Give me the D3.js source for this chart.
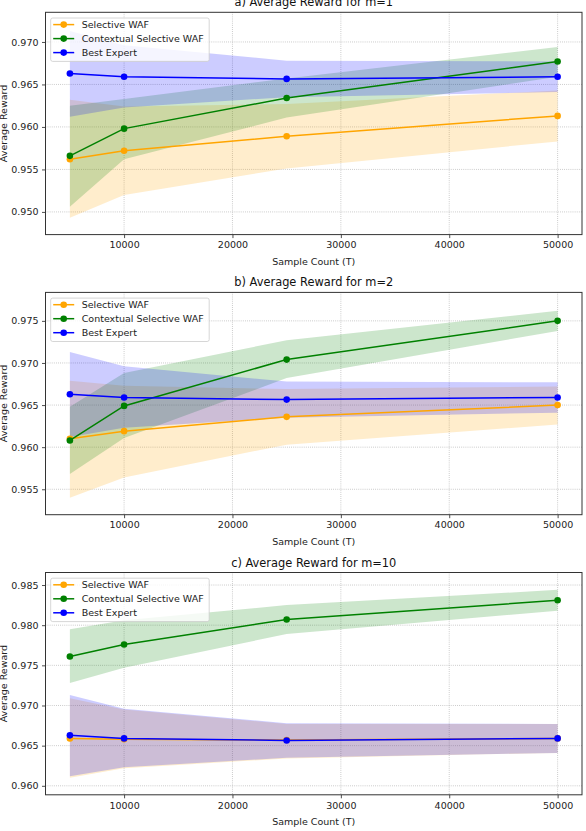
<!DOCTYPE html>
<html>
<head>
<meta charset="utf-8">
<script src="https://cdn.jsdelivr.net/npm/d3@7"></script>
<style>
  html, body { margin: 0; padding: 0; background: #fff; }
  svg { display: block; font-family: "DejaVu Sans", sans-serif; }
</style>
</head>
<body>
<svg id="chart" width="586" height="831"></svg>
<script>
// ---------------- DATA ----------------
const sampleCounts = [5000, 10000, 25000, 50000];
const xTicks = [10000, 20000, 30000, 40000, 50000];
const seriesNames = ["Selective WAF", "Contextual Selective WAF", "Best Expert"];
const panelTitles = ["a) Average Reward for m=1", "b) Average Reward for m=2", "c) Average Reward for m=10"];

// Best Expert (identical in every panel)
const bestMean = [0.96628, 0.96590, 0.96565, 0.96590];
const bestLow  = [0.9612, 0.9623, 0.9635, 0.9641];
const bestHigh = [0.9713, 0.9696, 0.9678, 0.9677];

// m = 1
const wafM1Mean = [0.9562, 0.9572, 0.9589, 0.9613];
const wafM1Low  = [0.9493, 0.9520, 0.9551, 0.9583];
const wafM1High = [0.9632, 0.9624, 0.9627, 0.9643];
const ctxM1Mean = [0.9566, 0.9598, 0.9634, 0.9677];
const ctxM1Low  = [0.9506, 0.9562, 0.9611, 0.9659];
const ctxM1High = [0.9625, 0.9633, 0.9657, 0.9694];

// m = 2
const wafM2Mean = [0.9610, 0.9619, 0.9636, 0.9650];
const wafM2Low  = [0.9540, 0.9564, 0.9603, 0.9627];
const wafM2High = [0.9679, 0.9673, 0.9669, 0.9672];
const ctxM2Mean = [0.9608, 0.9649, 0.9704, 0.9750];
const ctxM2Low  = [0.9568, 0.9611, 0.9682, 0.9738];
const ctxM2High = [0.9648, 0.9688, 0.9727, 0.9762];

// m = 10
const wafM10Mean = [0.9659, 0.9658, 0.9657, 0.9659];
const wafM10Low  = [0.9610, 0.9622, 0.9634, 0.9641];
const wafM10High = [0.9709, 0.9695, 0.9677, 0.9677];
const ctxM10Mean = [0.9761, 0.9776, 0.9807, 0.9831];
const ctxM10Low  = [0.9728, 0.9747, 0.9789, 0.9818];
const ctxM10High = [0.9795, 0.9806, 0.9825, 0.9844];

// y tick labels per panel
const yTicksM1  = [0.950, 0.955, 0.960, 0.965, 0.970];
const yTicksM2  = [0.955, 0.960, 0.965, 0.970, 0.975];
const yTicksM10 = [0.960, 0.965, 0.970, 0.975, 0.980, 0.985];

// ---------------- BUILD ----------------
const colors = ["orange", "green", "blue"];
const panels = [
  { title: panelTitles[0], yDomain: [0.94733, 0.97349], yTicks: yTicksM1,
    series: [[wafM1Mean, wafM1Low, wafM1High], [ctxM1Mean, ctxM1Low, ctxM1High], [bestMean, bestLow, bestHigh]] },
  { title: panelTitles[1], yDomain: [0.95198, 0.97838], yTicks: yTicksM2,
    series: [[wafM2Mean, wafM2Low, wafM2High], [ctxM2Mean, ctxM2Low, ctxM2High], [bestMean, bestLow, bestHigh]] },
  { title: panelTitles[2], yDomain: [0.95888, 0.98656], yTicks: yTicksM10,
    series: [[wafM10Mean, wafM10Low, wafM10High], [ctxM10Mean, ctxM10Low, ctxM10High], [bestMean, bestLow, bestHigh]] }
];

const svg = d3.select("#chart");
const L = 45.5, R = 582, H = 222.3;
const tops = [12.3, 292.4, 572.5];
const x = d3.scaleLinear().domain([2750, 52250]).range([L, R]);
const fmt = d3.format(".3f");

panels.forEach((p, pi) => {
  const top = tops[pi], bottom = top + H;
  const y = d3.scaleLinear().domain(p.yDomain).range([bottom, top]);
  const g = svg.append("g");

  // grid
  g.selectAll(".gx").data(xTicks).enter().append("line")
    .attr("x1", d => x(d)).attr("x2", d => x(d)).attr("y1", top).attr("y2", bottom)
    .attr("stroke", "#b0b0b0").attr("stroke-width", 0.8).attr("stroke-dasharray", "0.8,1.3");
  g.selectAll(".gy").data(p.yTicks).enter().append("line")
    .attr("x1", L).attr("x2", R).attr("y1", d => y(d)).attr("y2", d => y(d))
    .attr("stroke", "#b0b0b0").attr("stroke-width", 0.8).attr("stroke-dasharray", "0.8,1.3");

  // bands
  p.series.forEach((s, si) => {
    const pts = sampleCounts.map((c, i) => ({ x: c, lo: s[1][i], hi: s[2][i] }));
    g.append("path").datum(pts)
      .attr("d", d3.area().x(d => x(d.x)).y0(d => y(d.lo)).y1(d => y(d.hi)))
      .attr("fill", colors[si]).attr("fill-opacity", 0.2).attr("stroke", "none");
  });
  // lines + markers
  p.series.forEach((s, si) => {
    const pts = sampleCounts.map((c, i) => ({ x: c, v: s[0][i] }));
    g.append("path").datum(pts)
      .attr("d", d3.line().x(d => x(d.x)).y(d => y(d.v)))
      .attr("fill", "none").attr("stroke", colors[si]).attr("stroke-width", 1.5);
    g.selectAll(null).data(pts).enter().append("circle")
      .attr("cx", d => x(d.x)).attr("cy", d => y(d.v)).attr("r", 3.3)
      .attr("fill", colors[si]);
  });

  // axes
  const xAxis = d3.axisBottom(x).tickValues(xTicks).tickFormat(d3.format("d")).tickSize(3.5).tickPadding(3.5);
  const ax = g.append("g").attr("transform", `translate(0,${bottom})`).call(xAxis);
  const yAxis = d3.axisLeft(y).tickValues(p.yTicks).tickFormat(fmt).tickSize(3.5).tickPadding(3.5);
  const ay = g.append("g").attr("transform", `translate(${L},0)`).call(yAxis);
  [ax, ay].forEach(a => {
    a.select(".domain").remove();
    a.selectAll(".tick line").attr("stroke", "#222").attr("stroke-width", 0.8);
    a.selectAll(".tick text").attr("fill", "#222").style("font-size", "9.5px")
      .style("font-family", "DejaVu Sans");
  });

  // frame
  g.append("rect").attr("x", L).attr("y", top).attr("width", R - L).attr("height", H)
    .attr("fill", "none").attr("stroke", "#333").attr("stroke-width", 1);

  // title
  g.append("text").attr("x", (L + R) / 2).attr("y", top - 6)
    .attr("text-anchor", "middle").style("font-size", "11.4px").attr("fill", "#111")
    .text(p.title);
  // x label
  g.append("text").attr("x", (L + R) / 2).attr("y", bottom + 30)
    .attr("text-anchor", "middle").style("font-size", "9.5px").attr("fill", "#222")
    .text("Sample Count (T)");
  // y label
  g.append("text").attr("transform", `translate(7,${(top + bottom) / 2}) rotate(-90)`)
    .attr("text-anchor", "middle").style("font-size", "9.5px").attr("fill", "#222")
    .text("Average Reward");

  // legend
  const lg = g.append("g").attr("transform", `translate(50.7,${top + 5.7})`);
  lg.append("rect").attr("width", 158.5).attr("height", 43.4).attr("rx", 2)
    .attr("fill", "#fff").attr("fill-opacity", 0.8).attr("stroke", "#cccccc").attr("stroke-width", 0.8);
  seriesNames.forEach((name, i) => {
    const cy = 6.6 + i * 14;
    lg.append("line").attr("x1", 2.5).attr("x2", 23.5).attr("y1", cy).attr("y2", cy)
      .attr("stroke", colors[i]).attr("stroke-width", 1.5);
    lg.append("circle").attr("cx", 13).attr("cy", cy).attr("r", 3.3).attr("fill", colors[i]);
    lg.append("text").attr("x", 31).attr("y", cy).attr("dy", "0.35em")
      .style("font-size", "9.5px").attr("fill", "#222").text(name);
  });
});
</script>
</body>
</html>
